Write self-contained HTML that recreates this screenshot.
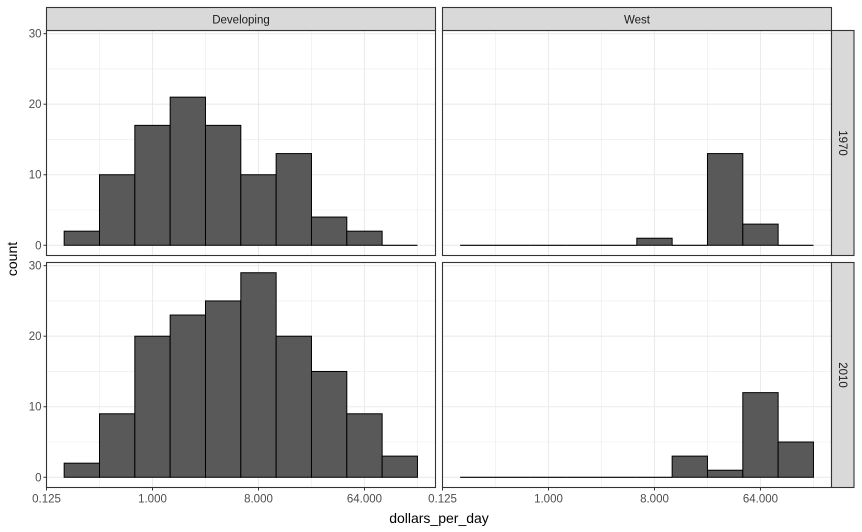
<!DOCTYPE html>
<html><head><meta charset="utf-8"><style>
html,body{margin:0;padding:0;background:#fff;}
svg{display:block;font-family:"Liberation Sans",Arial,sans-serif;}
</style></head><body>
<svg id="chart" width="862" height="532" viewBox="0 0 862 532"></svg>
<script>
const binCenters = [-2,-1,0,1,2,3,4,5,6,7];
const devCounts1970 = [2,10,17,21,17,10,13,4,2,0];
const westCounts1970 = [0,0,0,0,0,1,0,13,3,0];
const devCounts2010 = [2,9,20,23,25,29,20,15,9,3];
const westCounts2010 = [0,0,0,0,0,0,3,1,12,5];
const colLabels = ["Developing","West"];
const rowLabels = ["1970","2010"];
const yTicks = [0,10,20,30];
const yMinor = [5,15,25];
const xTickVals = [-3,0,3,6];
const xTickLabels = ["0.125","1.000","8.000","64.000"];
const xMinor = [-1.5,1.5,4.5,7.5];

const NS="http://www.w3.org/2000/svg";
const svg=document.getElementById('chart');
function mk(tag,attrs,parent){const e=document.createElementNS(NS,tag);for(const k in attrs)e.setAttribute(k,attrs[k]);(parent||svg).appendChild(e);return e;}

const cols=[{x0:46.5,x1:435.5},{x0:442.5,x1:831.5}];
const rows=[{y0:30.5,y1:255.5},{y0:262.5,y1:487.5}];
const pxPerUnit=35.33;
function xs(c,v){return cols[c].x0+(v+3)*pxPerUnit;}
const yLo=-1.45,yHi=30.45;
function ys(r,v){const R=rows[r];return R.y1-(v-yLo)/(yHi-yLo)*(R.y1-R.y0);}
const data=[[devCounts1970,westCounts1970],[devCounts2010,westCounts2010]];

for(let r=0;r<2;r++)for(let c=0;c<2;c++){
  const g=mk('g',{});
  
  
  const X0=cols[c].x0,X1=cols[c].x1,Y0=rows[r].y0,Y1=rows[r].y1;
  mk('rect',{x:X0,y:Y0,width:X1-X0,height:Y1-Y0,fill:'#fff'},g);
  yMinor.forEach(v=>mk('line',{x1:X0,x2:X1,y1:ys(r,v),y2:ys(r,v),stroke:'#ebebeb','stroke-width':0.6},g));
  xMinor.forEach(v=>mk('line',{x1:xs(c,v),x2:xs(c,v),y1:Y0,y2:Y1,stroke:'#ebebeb','stroke-width':0.6},g));
  yTicks.forEach(v=>mk('line',{x1:X0,x2:X1,y1:ys(r,v),y2:ys(r,v),stroke:'#ebebeb','stroke-width':1.1},g));
  xTickVals.forEach(v=>mk('line',{x1:xs(c,v),x2:xs(c,v),y1:Y0,y2:Y1,stroke:'#ebebeb','stroke-width':1.1},g));
  const vals=data[r][c];
  binCenters.forEach((b,i)=>{
    const xa=xs(c,b-0.5),xb=xs(c,b+0.5),yt=ys(r,vals[i]),yb=ys(r,0);
    let bar;
    if(vals[i]>0){
      bar=mk('rect',{x:xa,y:yt,width:xb-xa,height:yb-yt,fill:'#595959',stroke:'#000','stroke-width':1},g);
    }else{
      bar=mk('line',{x1:xa,x2:xb,y1:yb,y2:yb,stroke:'#000','stroke-width':1.1},g);
    }
    
    
  });
  mk('rect',{x:X0,y:Y0,width:X1-X0,height:Y1-Y0,fill:'none',stroke:'#333','stroke-width':1.1},g);
  if(c===0){
    yTicks.forEach(v=>{
      mk('line',{x1:X0-3,x2:X0,y1:ys(r,v),y2:ys(r,v),stroke:'#333','stroke-width':1},g);
      const t=mk('text',{x:X0-5,y:ys(r,v)+4,'text-anchor':'end','font-size':11.5,fill:'#4d4d4d'},g);
      t.textContent=v;
      
      
    });
  }
  if(r===1){
    xTickVals.forEach((v,i)=>{
      mk('line',{x1:xs(c,v),x2:xs(c,v),y1:Y1,y2:Y1+3,stroke:'#333','stroke-width':1},g);
      const t=mk('text',{x:xs(c,v),y:Y1+15,'text-anchor':'middle','font-size':11.5,fill:'#4d4d4d'},g);
      t.textContent=xTickLabels[i];
      
      
    });
  }
}
for(let c=0;c<2;c++){
  const s=mk('rect',{x:cols[c].x0,y:7.5,width:cols[c].x1-cols[c].x0,height:23,fill:'#d9d9d9',stroke:'#333','stroke-width':1.1});
  
  
  const t=mk('text',{x:(cols[c].x0+cols[c].x1)/2,y:23.5,'text-anchor':'middle','font-size':11.5,fill:'#1a1a1a'});
  t.textContent=colLabels[c];
  
  
}
for(let r=0;r<2;r++){
  const s=mk('rect',{x:831.5,y:rows[r].y0,width:22.5,height:rows[r].y1-rows[r].y0,fill:'#d9d9d9',stroke:'#333','stroke-width':1.1});
  
  
  const cy=(rows[r].y0+rows[r].y1)/2;
  const t=mk('text',{x:839,y:cy,'text-anchor':'middle','font-size':11.5,fill:'#1a1a1a',transform:'rotate(90 839 '+cy+')'});
  t.textContent=rowLabels[r];
  
  
}
const yt=mk('text',{x:17,y:259,'text-anchor':'middle','font-size':14,fill:'#000',transform:'rotate(-90 17 259)'});
yt.textContent='count';


const xt=mk('text',{x:439,y:523,'text-anchor':'middle','font-size':14,fill:'#000'});
xt.textContent='dollars_per_day';


</script>
</body></html>
